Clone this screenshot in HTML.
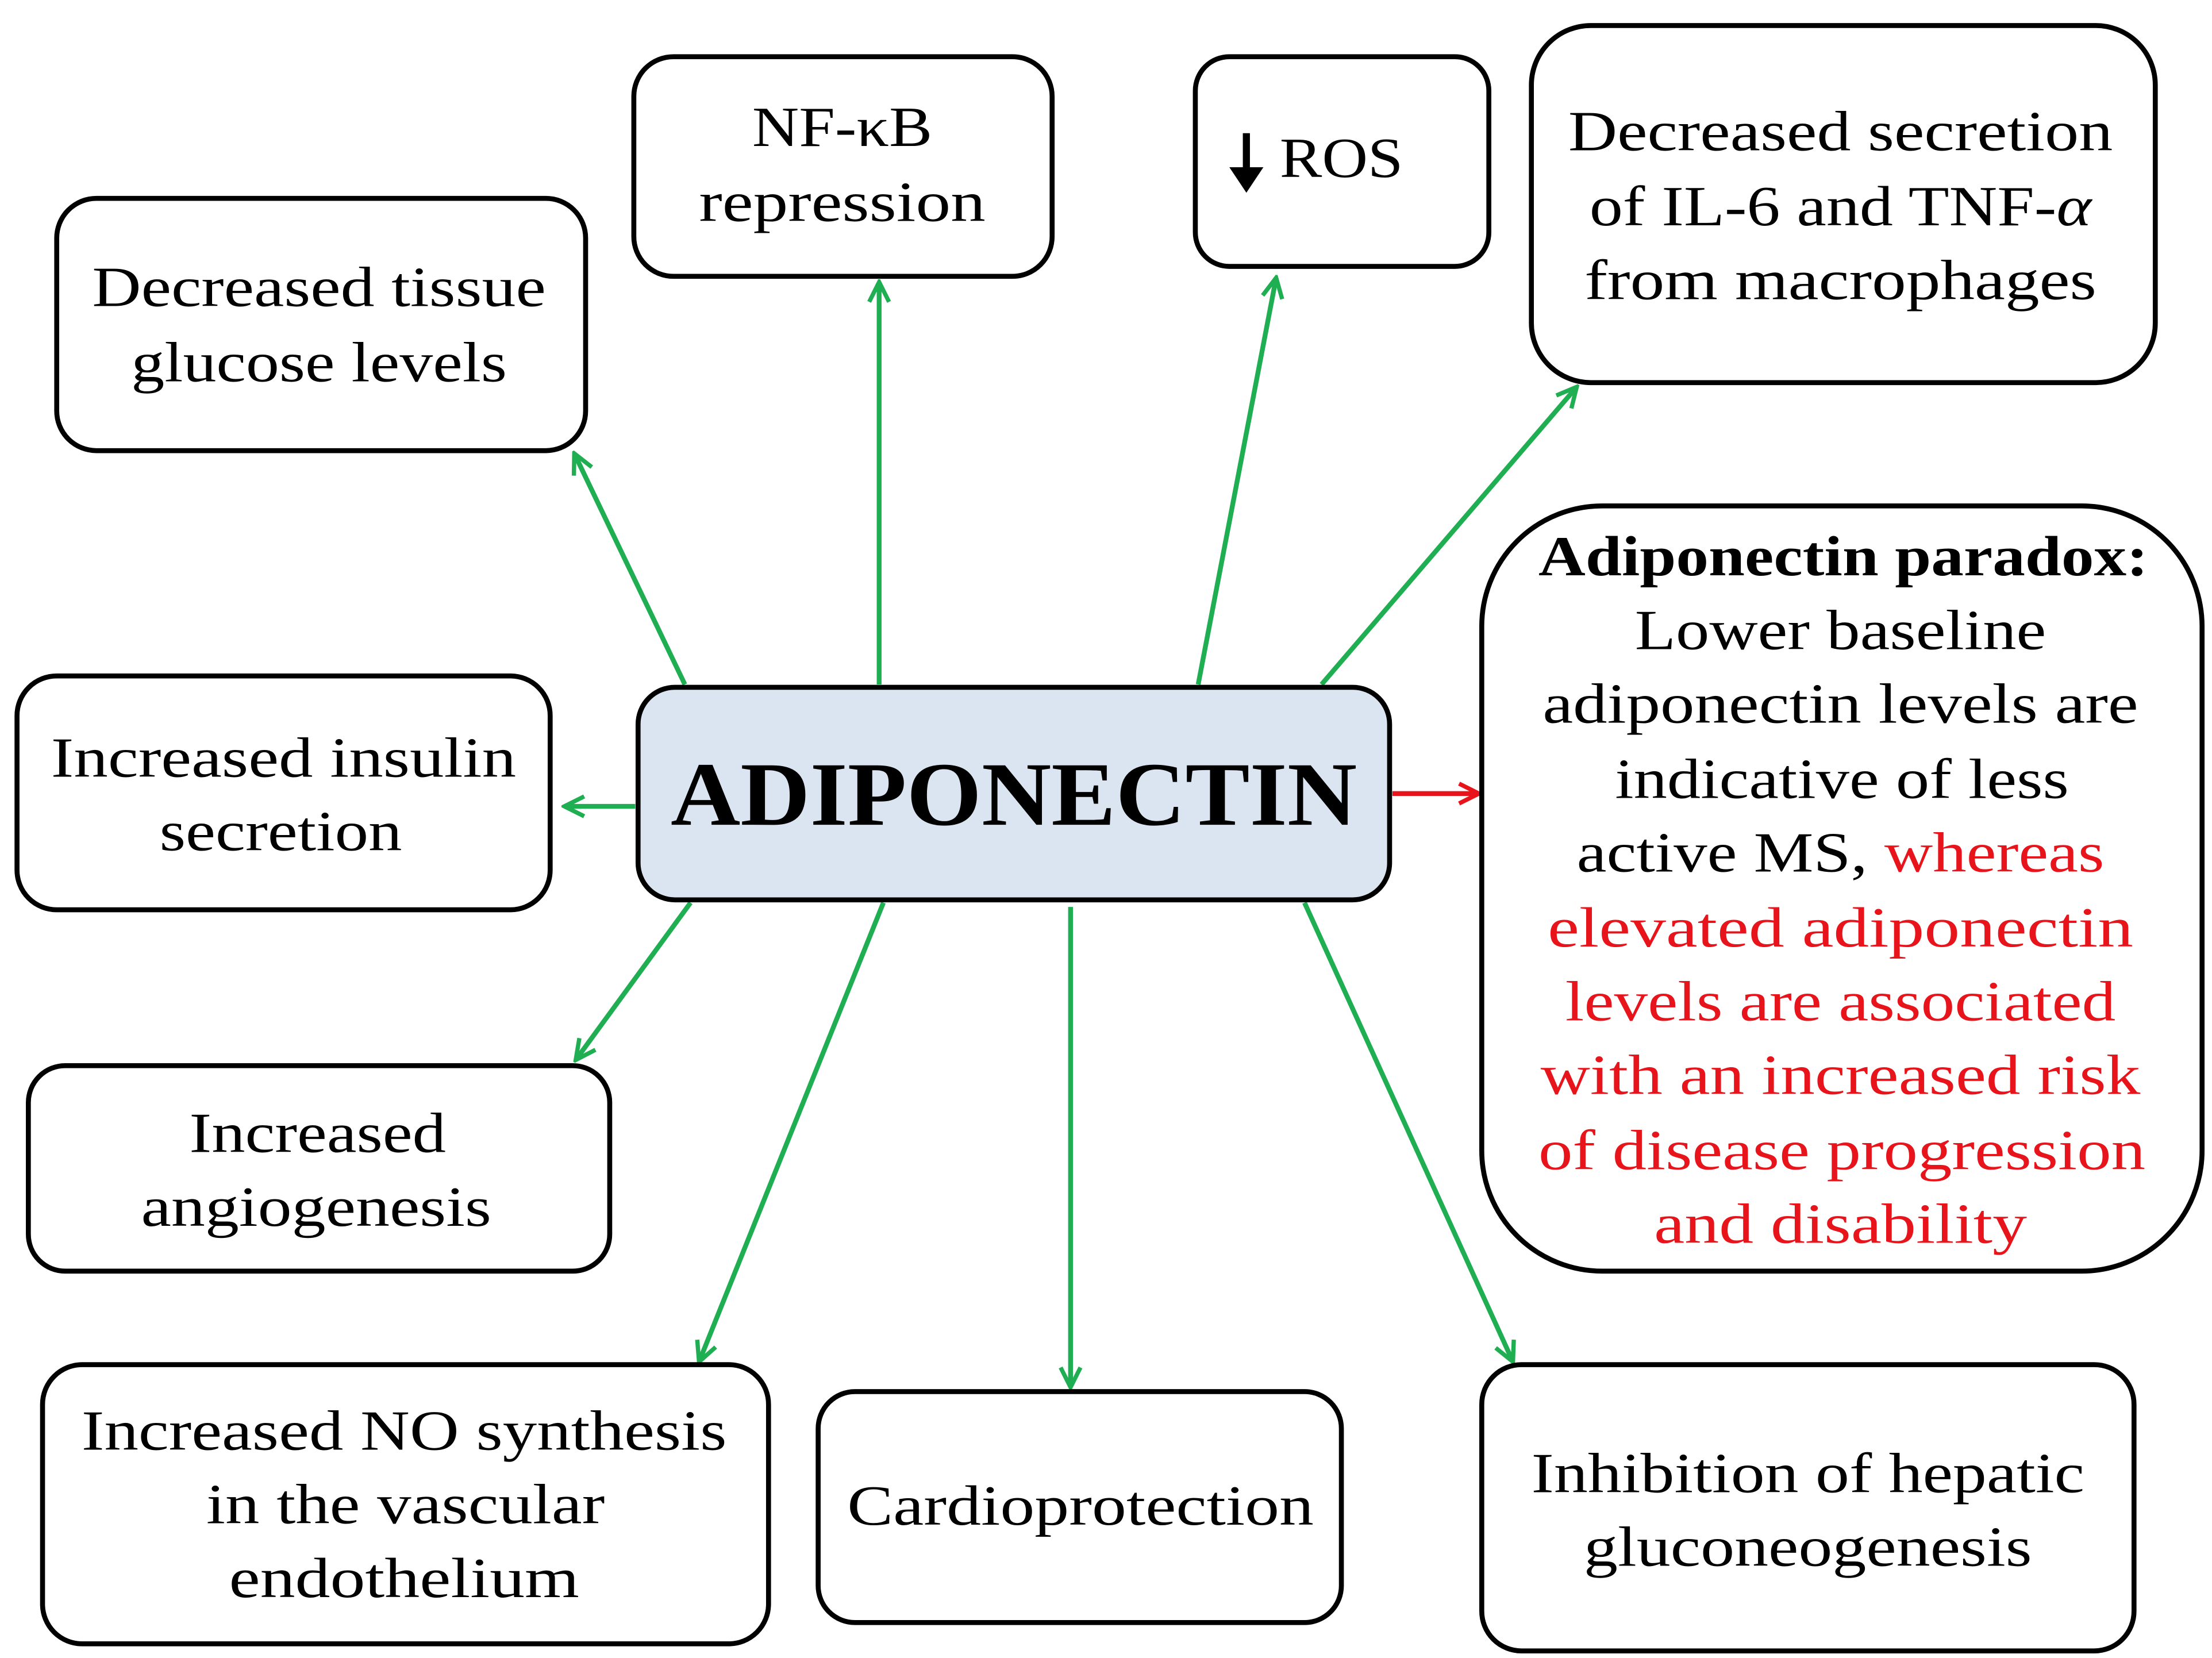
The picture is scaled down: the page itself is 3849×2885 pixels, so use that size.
<!DOCTYPE html>
<html><head><meta charset="utf-8"><style>html,body{margin:0;padding:0;background:#fff}svg{display:block}</style></head>
<body>
<svg width="3849" height="2885" viewBox="0 0 1560 1170" preserveAspectRatio="none" xmlns="http://www.w3.org/2000/svg" font-family="'Liberation Serif', serif" font-size="40" text-anchor="middle">
<defs>
<marker id="g" markerWidth="18" markerHeight="18" refX="16" refY="9" orient="auto" markerUnits="userSpaceOnUse" viewBox="0 0 18 18"><path d="M2,2 L16,9 L2,16" fill="none" stroke="#1fae52" stroke-width="3"/></marker>
<marker id="r" markerWidth="18" markerHeight="18" refX="16" refY="9" orient="auto" markerUnits="userSpaceOnUse" viewBox="0 0 18 18"><path d="M2,2 L16,9 L2,16" fill="none" stroke="#e8141b" stroke-width="3"/></marker>
</defs>
<g stroke="#1fae52" stroke-width="3.4" fill="none">
<line x1="483" y1="483" x2="405" y2="320" marker-end="url(#g)"/>
<line x1="620" y1="483" x2="620" y2="199" marker-end="url(#g)"/>
<line x1="845" y1="483" x2="900" y2="196" marker-end="url(#g)"/>
<line x1="932" y1="483" x2="1112" y2="273" marker-end="url(#g)"/>
<line x1="448" y1="569" x2="398" y2="569" marker-end="url(#g)"/>
<line x1="487" y1="637" x2="406" y2="748" marker-end="url(#g)"/>
<line x1="623" y1="637" x2="493" y2="961" marker-end="url(#g)"/>
<line x1="755" y1="640" x2="755" y2="979" marker-end="url(#g)"/>
<line x1="920" y1="637" x2="1067" y2="961" marker-end="url(#g)"/>
</g>
<line x1="982" y1="560" x2="1043" y2="560" stroke="#e8141b" stroke-width="3.4" marker-end="url(#r)"/>
<g stroke="#000" stroke-width="3.5" fill="#fff">
<rect x="40" y="140" width="373" height="178" rx="28"/>
<rect x="447" y="40" width="295" height="155" rx="28"/>
<rect x="843" y="40" width="207" height="148" rx="24"/>
<rect x="1080" y="18" width="440" height="252" rx="42"/>
<rect x="1045" y="357" width="508" height="540" rx="85"/>
<rect x="12" y="477" width="376" height="165" rx="28"/>
<rect x="450" y="485" width="530" height="150" rx="26" fill="#dbe5f1"/>
<rect x="20" y="752" width="410" height="145" rx="26"/>
<rect x="30" y="963" width="512" height="197" rx="28"/>
<rect x="577" y="982" width="369" height="163" rx="26"/>
<rect x="1045" y="963" width="460" height="202" rx="28"/>
</g>
<g fill="#000">
<text x="225" y="216" textLength="320" lengthAdjust="spacingAndGlyphs">Decreased tissue</text>
<text x="225" y="269" textLength="265" lengthAdjust="spacingAndGlyphs">glucose levels</text>
<text x="594" y="103" textLength="127" lengthAdjust="spacingAndGlyphs">NF-κB</text>
<text x="594" y="156" textLength="202" lengthAdjust="spacingAndGlyphs">repression</text>
<text x="946" y="125" textLength="87" lengthAdjust="spacingAndGlyphs">ROS</text>
<path d="M879,94 L879,128" stroke="#000" stroke-width="5" fill="none"/>
<path d="M867,118 L879,136 L891,118 Z" fill="#000"/>
<text x="1298" y="106" textLength="384" lengthAdjust="spacingAndGlyphs">Decreased secretion</text>
<text x="1298" y="159" textLength="354" lengthAdjust="spacingAndGlyphs">of IL-6 and TNF-<tspan font-style="italic">α</tspan></text>
<text x="1298" y="211" textLength="361" lengthAdjust="spacingAndGlyphs">from macrophages</text>
<text x="1300" y="406" font-weight="bold" textLength="430" lengthAdjust="spacingAndGlyphs">Adiponectin paradox:</text>
<text x="1298" y="458" textLength="290" lengthAdjust="spacingAndGlyphs">Lower baseline</text>
<text x="1298" y="510" textLength="420" lengthAdjust="spacingAndGlyphs">adiponectin levels are</text>
<text x="1299" y="563" textLength="320" lengthAdjust="spacingAndGlyphs">indicative of less</text>
<text x="1298" y="615" textLength="372" lengthAdjust="spacingAndGlyphs">active MS, <tspan fill="#e8141b">whereas</tspan></text>
<g fill="#e8141b">
<text x="1298" y="668" textLength="413" lengthAdjust="spacingAndGlyphs">elevated  adiponectin</text>
<text x="1298" y="720" textLength="388" lengthAdjust="spacingAndGlyphs">levels are associated</text>
<text x="1298" y="772" textLength="423" lengthAdjust="spacingAndGlyphs">with an increased risk</text>
<text x="1299" y="825" textLength="428" lengthAdjust="spacingAndGlyphs">of disease progression</text>
<text x="1298" y="877" textLength="263" lengthAdjust="spacingAndGlyphs">and disability</text>
</g>
<text x="200" y="548" textLength="328" lengthAdjust="spacingAndGlyphs">Increased insulin</text>
<text x="198" y="600" textLength="171" lengthAdjust="spacingAndGlyphs">secretion</text>
<text x="715" y="582" font-size="64" font-weight="bold" textLength="484" lengthAdjust="spacingAndGlyphs">ADIPONECTIN</text>
<text x="224" y="813" textLength="181" lengthAdjust="spacingAndGlyphs">Increased</text>
<text x="223" y="865" textLength="247" lengthAdjust="spacingAndGlyphs">angiogenesis</text>
<text x="285" y="1023" textLength="455" lengthAdjust="spacingAndGlyphs">Increased NO synthesis</text>
<text x="286" y="1075" textLength="281" lengthAdjust="spacingAndGlyphs">in the vascular</text>
<text x="285" y="1127" textLength="247" lengthAdjust="spacingAndGlyphs">endothelium</text>
<text x="762" y="1076" textLength="329" lengthAdjust="spacingAndGlyphs">Cardioprotection</text>
<text x="1275" y="1053" textLength="390" lengthAdjust="spacingAndGlyphs">Inhibition of hepatic</text>
<text x="1275" y="1105" textLength="316" lengthAdjust="spacingAndGlyphs">gluconeogenesis</text>
</g>
</svg>
</body></html>
